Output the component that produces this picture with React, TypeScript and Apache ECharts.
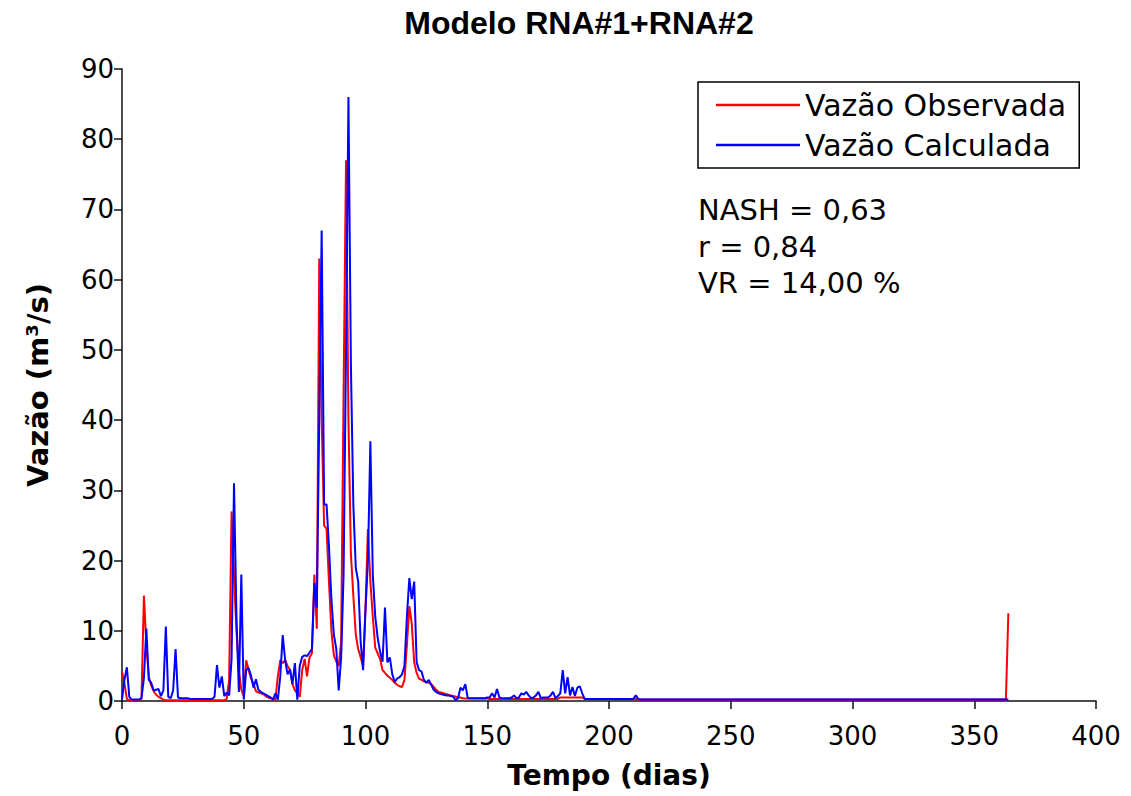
import React, { useEffect, useRef } from "react";
import * as echarts from "echarts";

// Daily values, day 0 .. day 215
const obsDaily: number[] = [
  4.2, 2.5, 0.3, 0.1, 0.1, 0.1, 0.1, 0.1, 0.3, 15.0,
  8.0, 3.5, 2.2, 1.4, 0.9, 0.6, 0.4, 0.2, 0.1, 0.1,
  0.1, 0.1, 0.1, 0.1, 0.1, 0.1, 0.1, 0.1, 0.1, 0.1,
  0.1, 0.1, 0.1, 0.1, 0.1, 0.1, 0.1, 0.1, 0.1, 0.1,
  0.1, 0.1, 0.1, 0.3, 3.0, 27.0, 18.0, 10.0, 4.4, 1.6,
  0.7, 5.8, 4.4, 3.2, 2.4, 1.4, 1.2, 1.1, 1.0, 0.7,
  0.5, 0.4, 0.3, 0.2, 3.5, 5.8, 5.4, 5.8, 5.0, 4.4,
  2.4, 1.5, 1.1, 0.6, 4.4, 6.0, 3.5, 6.2, 6.8, 18.0,
  10.3, 63.0, 40.0, 25.0, 24.5, 17.0, 10.0, 6.5, 5.6, 5.0,
  8.5, 44.0, 77.0, 40.0, 21.0, 15.0, 9.5, 7.4, 6.2, 5.0,
  13.3, 24.5, 17.0, 12.0, 7.6, 6.8, 6.0, 4.4, 4.0, 3.6,
  3.3, 3.0, 2.6, 2.3, 2.1, 2.0, 3.0, 8.0, 13.5, 11.0,
  5.5, 4.0, 3.2, 3.0, 2.8, 2.7, 2.6, 2.4, 2.0, 1.6,
  1.3, 1.2, 1.1, 1.0, 0.9, 0.8, 0.7, 0.6, 0.5, 0.5,
  0.4, 0.35, 0.35, 0.35, 0.35, 0.35, 0.35, 0.35, 0.35, 0.35,
  0.35, 0.3, 0.3, 0.3, 0.3, 0.3, 0.3, 0.3, 0.3, 0.3,
  0.3, 0.3, 0.3, 0.3, 0.3, 0.3, 0.3, 0.3, 0.3, 0.3,
  0.3, 0.3, 0.3, 0.3, 0.3, 0.3, 0.3, 0.3, 0.3, 0.3,
  0.5, 0.5, 0.5, 0.5, 0.5, 0.5, 0.5, 0.5, 0.5, 0.5,
  0.3, 0.3, 0.3, 0.3, 0.3, 0.3, 0.3, 0.3, 0.3, 0.3,
  0.3, 0.3, 0.3, 0.3, 0.3, 0.3, 0.3, 0.3, 0.3, 0.3,
  0.3, 0.3, 0.2, 0.2, 0.2, 0.2,
];

const calcDaily: number[] = [
  0.2, 3.0, 4.8, 0.6, 0.2, 0.2, 0.2, 0.2, 0.4, 3.3,
  10.3, 3.0, 2.6, 1.5, 1.6, 1.7, 0.7, 1.5, 10.6, 0.6,
  0.4, 1.5, 7.4, 0.5, 0.4, 0.4, 0.4, 0.4, 0.3, 0.3,
  0.3, 0.3, 0.3, 0.3, 0.3, 0.3, 0.3, 0.3, 0.6, 5.1,
  1.9, 3.5, 0.7, 1.2, 0.8, 6.0, 31.0, 12.0, 1.3, 18.0,
  0.2, 4.4, 4.7, 3.6, 1.9, 3.1, 1.6, 1.3, 1.1, 0.9,
  0.7, 0.5, 0.2, 1.1, 0.2, 3.5, 9.4, 5.8, 3.8, 4.5,
  2.4, 5.4, 0.2, 5.0, 6.3, 6.5, 6.4, 6.9, 7.4, 16.8,
  13.3, 40.0, 67.0, 28.0, 28.0, 22.0, 14.5, 9.5, 7.4, 1.5,
  6.2, 18.0, 50.0, 86.0, 48.0, 28.0, 19.0, 17.0, 8.5, 4.4,
  13.0, 20.0, 37.0, 18.0, 12.0, 9.0, 7.0, 5.6, 13.3, 5.5,
  6.2, 3.8, 2.7, 3.2, 3.4, 3.8, 5.0, 12.0, 17.5, 14.5,
  17.0, 5.5, 4.4, 4.2, 3.0, 2.6, 3.0, 2.3, 1.6, 1.3,
  1.1, 1.0, 0.9, 0.8, 0.8, 0.7, 0.6, 0.1, 0.4, 1.9,
  1.5, 2.4, 0.4, 0.4, 0.4, 0.4, 0.4, 0.4, 0.4, 0.4,
  0.5, 0.5, 1.1, 0.5, 1.7, 0.5, 0.4, 0.4, 0.4, 0.4,
  0.5, 0.8, 0.4, 0.5, 1.1, 0.9, 1.3, 0.8, 0.4, 0.5,
  0.8, 1.3, 0.4, 0.5, 0.5, 0.5, 0.8, 1.3, 0.4, 0.7,
  1.1, 4.4, 1.1, 3.4, 0.8, 2.0, 0.7, 1.9, 2.1, 1.1,
  0.3, 0.3, 0.3, 0.3, 0.3, 0.3, 0.3, 0.3, 0.3, 0.3,
  0.3, 0.3, 0.3, 0.3, 0.3, 0.3, 0.3, 0.3, 0.3, 0.3,
  0.3, 0.8, 0.3, 0.2, 0.2, 0.2,
];

// Last points of the year (flat tail and the final observed spike)
const tailDays: number[] = [363, 364];
const obsTail: number[] = [0.2, 12.5];
const calcTail: number[] = [0.2, 0.2];

const xTicks = { min: 0, max: 400, interval: 50 };
const yTicks = { min: 0, max: 90, interval: 10 };

const seriesNames = ["Vazão Observada", "Vazão Calculada"];
const statsLines = ["NASH = 0,63", "r = 0,84", "VR = 14,00 %"];

const FONT = '"DejaVu Sans", "Liberation Sans", sans-serif';

function toPairs(daily: number[], tail: number[]): number[][] {
  const pts = daily.map((v, i) => [i, v]);
  tailDays.forEach((d, i) => pts.push([d, tail[i]]));
  return pts;
}

export default function App() {
  const ref = useRef<HTMLDivElement>(null);

  useEffect(() => {
    if (!ref.current) return;
    const chart = echarts.init(ref.current, undefined, { renderer: "svg" });
    chart.setOption({
      animation: false,
      backgroundColor: "#ffffff",
      title: {
        text: "Modelo RNA#1+RNA#2",
        left: 574,
        top: 2,
        textAlign: "center",
        textStyle: {
          fontFamily: '"Liberation Sans", Arial, sans-serif',
          fontWeight: "bold",
          fontSize: 32,
          color: "#000",
        },
      },
      legend: {
        orient: "vertical",
        left: 698,
        top: 82,
        data: seriesNames,
        icon: "rect",
        itemWidth: 84,
        itemHeight: 2.5,
        itemGap: 10,
        padding: [8, 13, 8, 18],
        borderColor: "#000",
        borderWidth: 1.5,
        backgroundColor: "#fff",
        textStyle: { fontFamily: FONT, fontSize: 30, color: "#000" },
      },
      grid: { left: 122, top: 69, width: 974, height: 632 },
      xAxis: {
        type: "value",
        min: xTicks.min,
        max: xTicks.max,
        interval: xTicks.interval,
        name: "Tempo (dias)",
        nameLocation: "middle",
        nameGap: 60,
        nameTextStyle: {
          fontFamily: FONT,
          fontWeight: "bold",
          fontSize: 28,
          color: "#000",
        },
        axisLine: { lineStyle: { color: "#111", width: 1.5 } },
        axisTick: { show: true, inside: false, length: 8, lineStyle: { color: "#111", width: 1.5 } },
        axisLabel: { fontFamily: FONT, fontSize: 26, color: "#000", margin: 22 },
        splitLine: { show: false },
      },
      yAxis: {
        type: "value",
        min: yTicks.min,
        max: yTicks.max,
        interval: yTicks.interval,
        name: "Vazão (m³/s)",
        nameLocation: "middle",
        nameGap: 70,
        nameRotate: 90,
        nameTextStyle: {
          fontFamily: FONT,
          fontWeight: "bold",
          fontSize: 29,
          color: "#000",
        },
        axisLine: { show: true, lineStyle: { color: "#111", width: 1.5 } },
        axisTick: { show: true, inside: false, length: 8, lineStyle: { color: "#111", width: 1.5 } },
        axisLabel: { fontFamily: FONT, fontSize: 26, color: "#000", margin: 8 },
        splitLine: { show: false },
      },
      graphic: statsLines.map((t, i) => ({
        type: "text",
        x: 698,
        y: 210 + i * 36.5,
        style: {
          text: t,
          font: `29px ${FONT}`,
          fill: "#000",
          verticalAlign: "middle",
        },
      })),
      series: [
        {
          name: seriesNames[0],
          type: "line",
          data: toPairs(obsDaily, obsTail),
          showSymbol: false,
          symbol: "none",
          lineStyle: { color: "#ff0000", width: 2 },
          itemStyle: { color: "#ff0000" },
          z: 2,
        },
        {
          name: seriesNames[1],
          type: "line",
          data: toPairs(calcDaily, calcTail),
          showSymbol: false,
          symbol: "none",
          lineStyle: { color: "#0000ff", width: 2 },
          itemStyle: { color: "#0000ff" },
          z: 3,
        },
      ],
    });
    return () => chart.dispose();
  }, []);

  return (
    <div
      ref={ref}
      style={{ position: "fixed", left: 0, top: 0, width: 1131, height: 796 }}
    />
  );
}
